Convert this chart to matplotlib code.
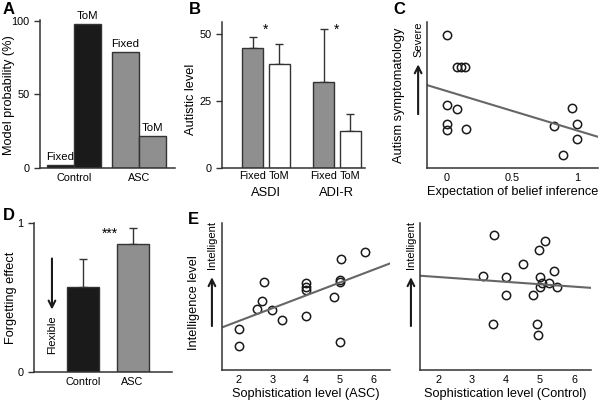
import numpy as np
import matplotlib
matplotlib.use('Agg')
import matplotlib.pyplot as plt

plt.rcParams['font.family'] = ['Liberation Sans', 'DejaVu Sans']

# --- datos ---
# A: probabilidad del modelo
grupos_a = ['Control', 'ASC']
fixed_a = [2, 79]
tom_a = [98, 22]

# B: nivel autista
grupos_b = ['ASDI', 'ADI-R']
fixed_b = [45, 32]
fixed_b_err = [4, 20]
tom_b = [39, 14]
tom_b_err = [7.5, 6]

# C: expectativa de inferencia vs sintomatologia
c_x = [0, 0.076, 0.106, 0.137, 0, 0.081, 0, 0, 0.144, 0.962, 0.823, 1.0, 1.0, 0.889]
c_y = [0.914, 0.691, 0.691, 0.691, 0.432, 0.402, 0.302, 0.259, 0.268, 0.414, 0.289, 0.300, 0.200, 0.089]
c_fit = (-0.27, 0.527)

# D: efecto de olvido
grupos_d = ['Control', 'ASC']
olvido = [0.57, 0.86]
olvido_err = [0.19, 0.106]

# E: sofisticacion vs inteligencia
asc_x = [2.0, 2.0, 2.54, 2.68, 2.75, 2.98, 3.29, 3.99, 3.99, 3.99, 3.99, 4.82, 5.0, 5.0, 5.04, 5.02, 5.75]
asc_y = [0.282, 0.166, 0.414, 0.466, 0.600, 0.409, 0.341, 0.593, 0.564, 0.545, 0.368, 0.498, 0.614, 0.598, 0.757, 0.191, 0.802]
asc_fit = (0.087, 0.159)
ctl_x = [3.31, 3.66, 3.63, 4.0, 4.01, 4.49, 4.80, 4.96, 5.14, 4.90, 4.94, 5.01, 5.05, 4.99, 5.26, 5.40, 5.51]
ctl_y = [0.639, 0.918, 0.311, 0.630, 0.509, 0.718, 0.509, 0.814, 0.877, 0.314, 0.236, 0.630, 0.591, 0.564, 0.591, 0.675, 0.564]
ctl_fit = (-0.0164, 0.665)

negro = '#1a1a1a'
gris = '#8f8f8f'
borde = '#333333'
linea = '#666666'
fs_eje = 9.2
fs_tick = 7.8

fig = plt.figure(figsize=(6, 4.03), dpi=100)


def estilo(ax, yticks=True):
    for s in ['top', 'right']:
        ax.spines[s].set_visible(False)
    for s in ['left', 'bottom']:
        ax.spines[s].set_color(borde)
        ax.spines[s].set_linewidth(1.1)
    ax.tick_params(direction='out', length=4, width=1, colors=borde, labelsize=fs_tick, labelcolor='black')
    ax.tick_params(axis='x', length=0)
    if not yticks:
        ax.set_yticks([])


def flecha(ax, x, y0, y1, texto, ty):
    ax.annotate('', xy=(x, y1), xytext=(x, y0), xycoords='axes fraction',
                arrowprops=dict(arrowstyle='->', color=negro, lw=1.5, mutation_scale=12),
                annotation_clip=False)
    ax.text(x, ty, texto, transform=ax.transAxes, rotation=90, ha='center', va='center',
            fontsize=8, clip_on=False)


# Panel A
axA = fig.add_axes([0.0667, 0.5831, 0.225, 0.367])
cen_a = np.array([1.26, 3.67])
axA.bar(cen_a - 0.5, fixed_a, width=1, color=[negro, gris], edgecolor=borde, linewidth=1)
axA.bar(cen_a + 0.5, tom_a, width=1, color=[negro, gris], edgecolor=borde, linewidth=1)
for i in range(2):
    axA.text(cen_a[i] - 0.5, fixed_a[i] + 2, 'Fixed', ha='center', va='bottom', fontsize=8.2)
    axA.text(cen_a[i] + 0.5, tom_a[i] + 2, 'ToM', ha='center', va='bottom', fontsize=8.2)
axA.set_xlim(0, 5)
axA.set_ylim(0, 100.5)
axA.set_yticks([0, 50, 100])
axA.set_xticks(cen_a)
axA.set_xticklabels(grupos_a, fontsize=9)
estilo(axA)
axA.set_ylabel('Model probability (%)', fontsize=fs_eje)
axA.yaxis.set_label_coords(-0.185, 0.49)

# Panel B
axB = fig.add_axes([0.37, 0.5831, 0.238, 0.362])
cen_b = np.array([1.97, 5.15])
axB.bar(cen_b - 0.6, fixed_b, width=0.95, color=gris, edgecolor=borde, linewidth=1, zorder=2)
axB.bar(cen_b + 0.6, tom_b, width=0.95, color='white', edgecolor=borde, linewidth=1, zorder=2)
axB.errorbar(cen_b - 0.6, fixed_b, yerr=[[0, 0], fixed_b_err], fmt='none', ecolor=borde,
             elinewidth=1, capsize=3, capthick=1, zorder=1)
axB.errorbar(cen_b + 0.6, tom_b, yerr=[[0, 0], tom_b_err], fmt='none', ecolor=borde,
             elinewidth=1, capsize=3, capthick=1, zorder=1)
for c in cen_b:
    axB.text(c, 51.5, '*', ha='center', va='center', fontsize=10)
axB.set_xlim(0, 6.4)
axB.set_ylim(0, 54.5)
axB.set_yticks([0, 25, 50])
axB.set_xticks(np.concatenate([cen_b - 0.6, cen_b + 0.6]))
axB.set_xticklabels(['Fixed', 'Fixed', 'ToM', 'ToM'], fontsize=8)
estilo(axB)
axB.tick_params(axis='x', pad=2)
for c, g in zip(cen_b, grupos_b):
    axB.text(c, -0.172, g, transform=axB.get_xaxis_transform(), ha='center', va='center', fontsize=9.3)
axB.set_ylabel('Autistic level', fontsize=fs_eje)
axB.yaxis.set_label_coords(-0.175, 0.47)

# Panel C
axC = fig.add_axes([0.7117, 0.5831, 0.285, 0.362])
axC.plot(c_x, c_y, 'o', mfc='none', mec=negro, ms=6, mew=1.1, clip_on=False)
xx = np.array([-0.153, 1.16])
axC.plot(xx, c_fit[0] * xx + c_fit[1], color=linea, lw=1.5)
axC.set_xlim(-0.153, 1.16)
axC.set_ylim(0, 1)
axC.set_xticks([0, 0.5, 1])
axC.set_xticklabels(['0', '0.5', '1'])
estilo(axC, yticks=False)
axC.set_xlabel('Expectation of belief inference', fontsize=fs_eje, labelpad=2)
axC.set_ylabel('Autism symptomatology', fontsize=fs_eje)
axC.yaxis.set_label_coords(-0.127, 0.5)
flecha(axC, -0.052, 0.35, 0.73, 'Severe', 0.88)

# Panel D
axD = fig.add_axes([0.0567, 0.0769, 0.23, 0.37])
cen_d = np.array([1.5, 3.0])
axD.bar(cen_d, olvido, width=0.97, color=[negro, gris], edgecolor=borde, linewidth=1, zorder=2)
axD.errorbar(cen_d, olvido, yerr=[[0, 0], olvido_err], fmt='none', ecolor=borde,
             elinewidth=1, capsize=3, capthick=1, zorder=1)
axD.text(2.31, 0.93, '***', ha='center', va='center', fontsize=10)
axD.set_xlim(0, 4.2)
axD.set_ylim(0, 1)
axD.set_yticks([0, 1])
axD.set_xticks(cen_d)
axD.set_xticklabels(grupos_d, fontsize=9)
estilo(axD)
axD.set_ylabel('Forgetting effect', fontsize=fs_eje)
axD.yaxis.set_label_coords(-0.123, 0.5)
flecha(axD, 0.13, 0.78, 0.40, 'Flexible', 0.25)

# Panel E
axE1 = fig.add_axes([0.37, 0.0819, 0.28, 0.365])
axE1.plot(asc_x, asc_y, 'o', mfc='none', mec=negro, ms=6, mew=1.1, clip_on=False)
xe = np.array([1.5, 6.5])
axE1.plot(xe, asc_fit[0] * xe + asc_fit[1], color=linea, lw=1.5)
axE1.set_xlim(1.5, 6.5)
axE1.set_ylim(0, 1)
axE1.set_xticks([2, 3, 4, 5, 6])
estilo(axE1, yticks=False)
axE1.set_xlabel('Sophistication level (ASC)', fontsize=fs_eje, labelpad=2)
axE1.set_ylabel('Intelligence level', fontsize=fs_eje)
axE1.yaxis.set_label_coords(-0.13, 0.46)
flecha(axE1, -0.06, 0.28, 0.65, 'Intelligent', 0.85)

axE2 = fig.add_axes([0.70, 0.0819, 0.285, 0.365])
axE2.plot(ctl_x, ctl_y, 'o', mfc='none', mec=negro, ms=6, mew=1.1, clip_on=False)
xe2 = np.array([1.47, 6.5])
axE2.plot(xe2, ctl_fit[0] * xe2 + ctl_fit[1], color=linea, lw=1.5)
axE2.set_xlim(1.47, 6.5)
axE2.set_ylim(0, 1)
axE2.set_xticks([2, 3, 4, 5, 6])
estilo(axE2, yticks=False)
axE2.set_xlabel('Sophistication level (Control)', fontsize=fs_eje, labelpad=2)
flecha(axE2, -0.053, 0.28, 0.65, 'Intelligent', 0.85)

# Letras de panel
for x, y, l in [(0.005, 0.995, 'A'), (0.315, 0.995, 'B'), (0.655, 0.995, 'C'),
                (0.005, 0.483, 'D'), (0.313, 0.474, 'E')]:
    fig.text(x, y, l, fontsize=12, fontweight='bold', va='top', ha='left')

fig.savefig('out.png', dpi=100)
